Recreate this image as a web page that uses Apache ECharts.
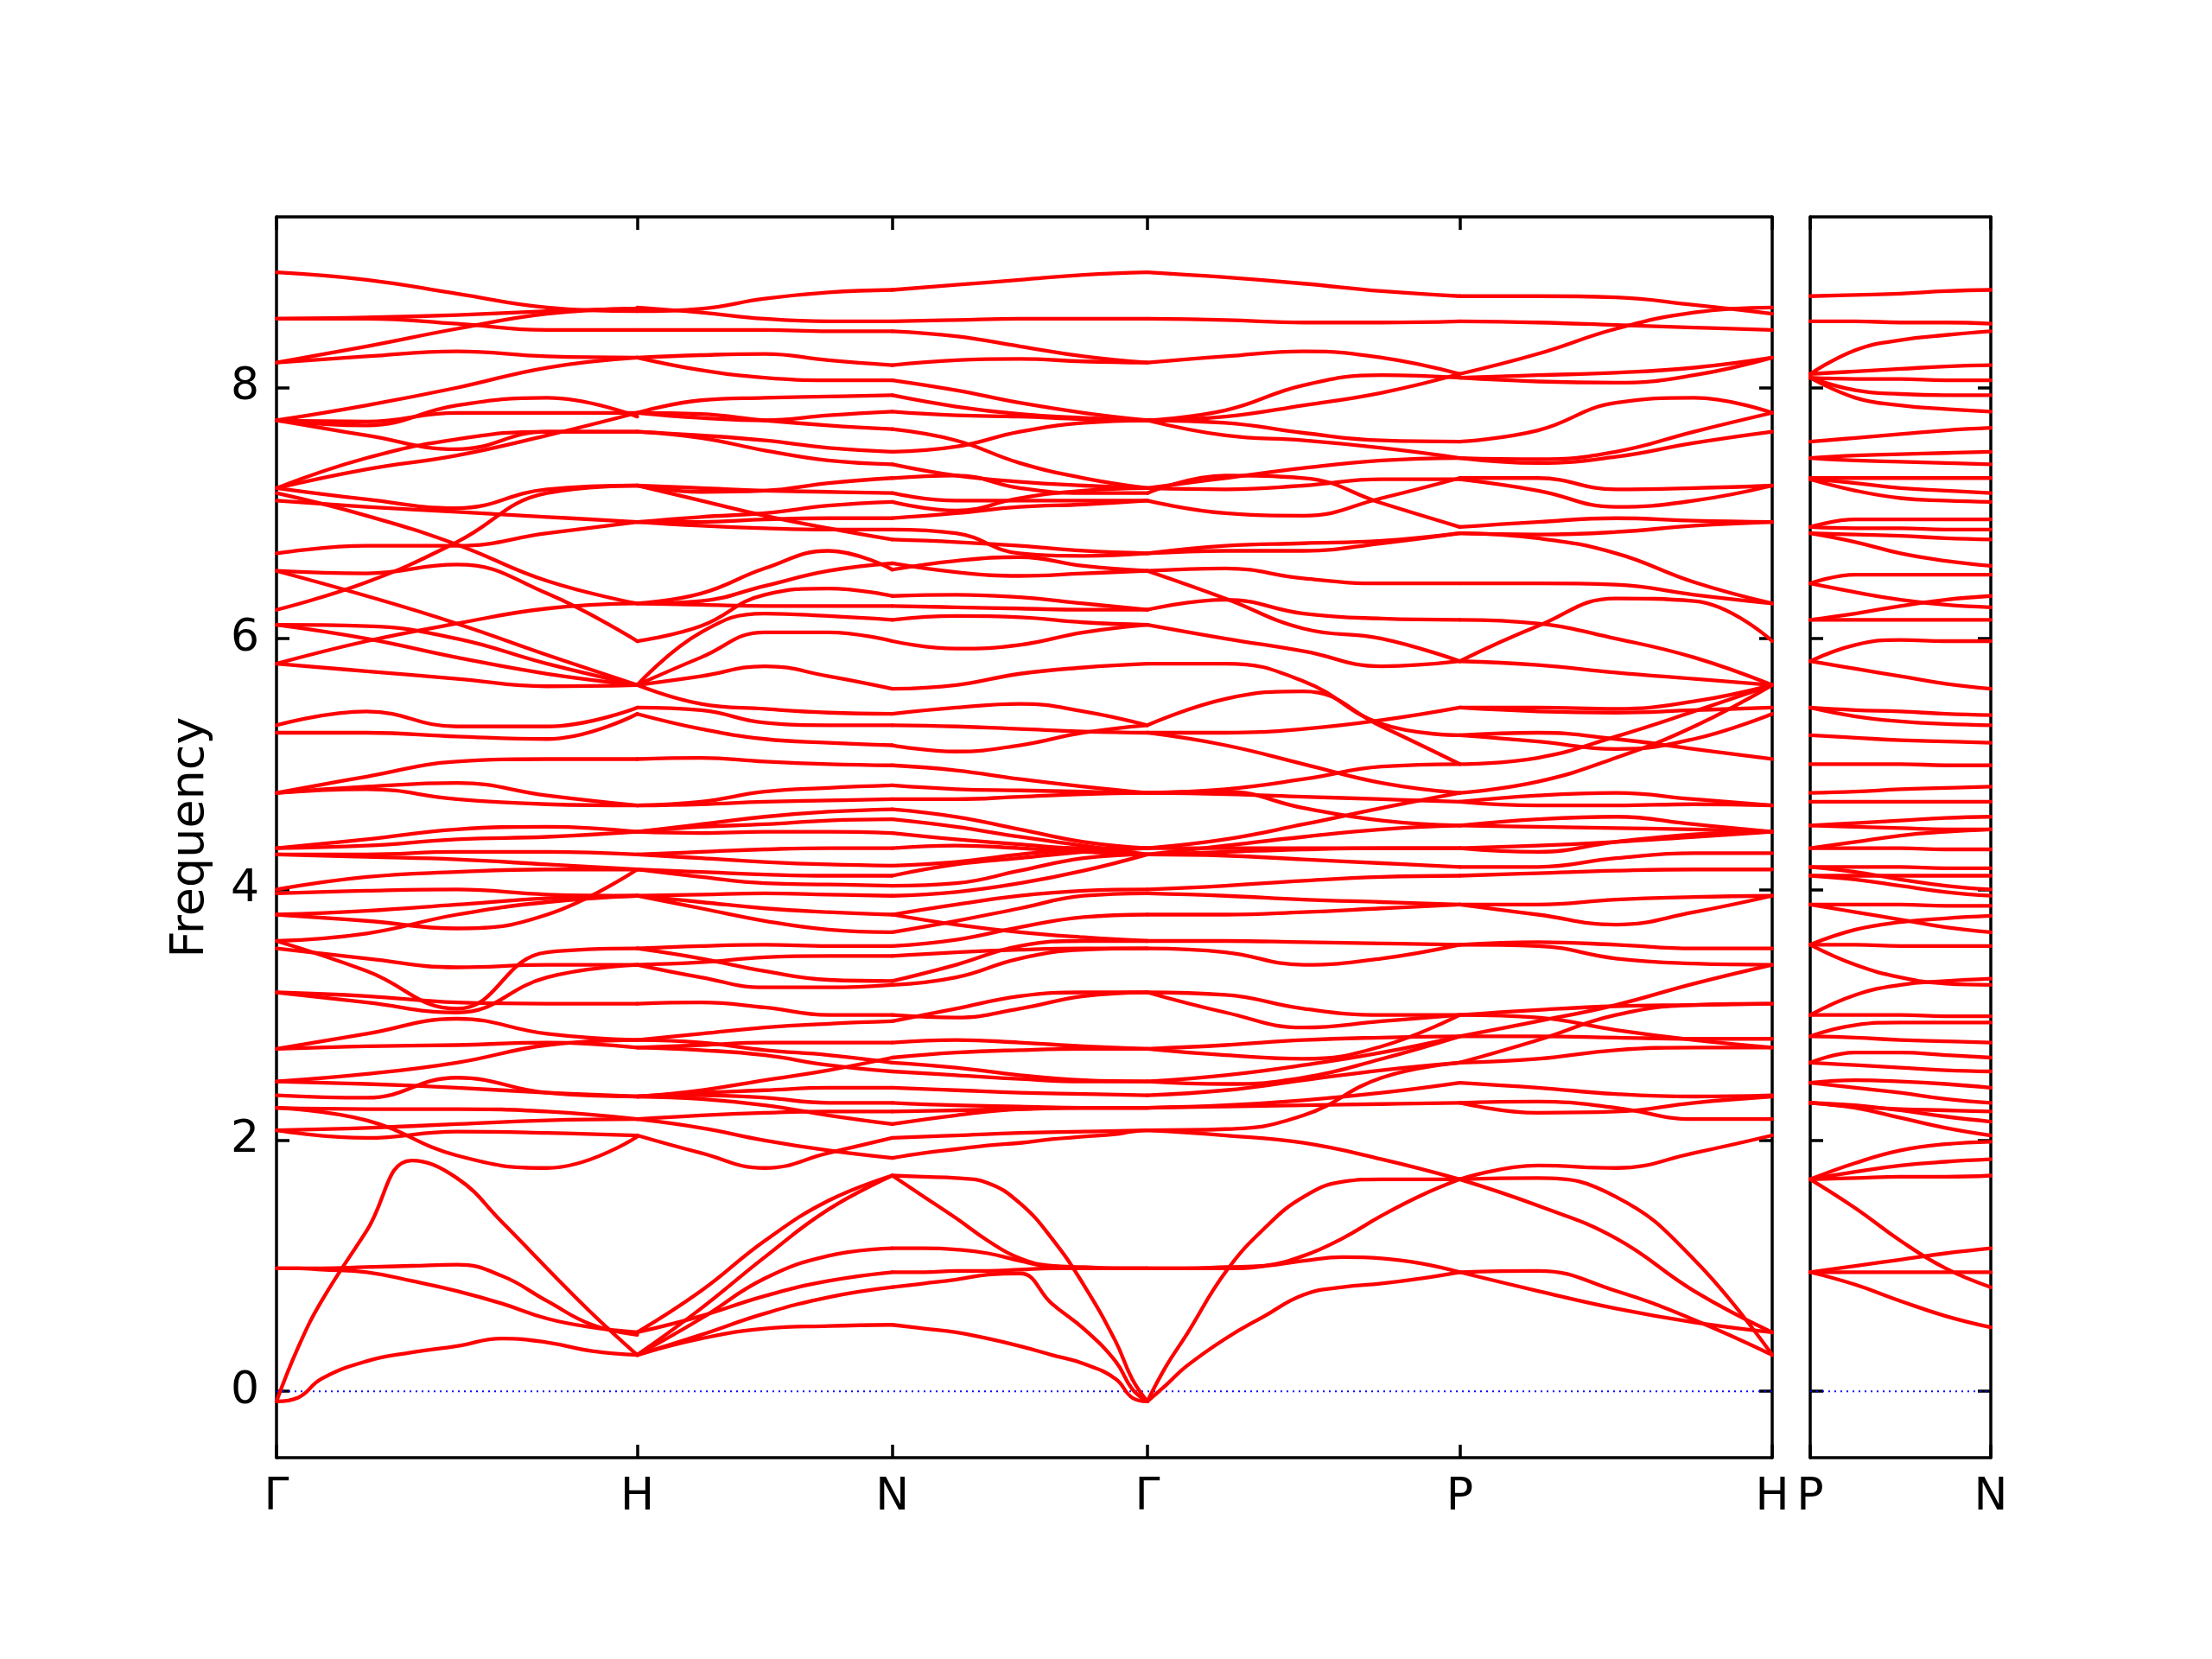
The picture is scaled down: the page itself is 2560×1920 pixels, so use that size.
<!DOCTYPE html>
<html><head><meta charset="utf-8">
<script src="https://cdn.jsdelivr.net/npm/echarts@6/dist/echarts.min.js"></script>
<style>html,body{margin:0;padding:0;background:#fff}#c{width:2560px;height:1920px}</style>
</head><body><div id="c"></div>
<script>
// ---- path / tick data ----
const kNodes = [0, 1, 1.7071, 2.4142, 3.2802, 4.1463];
const kLabels = ['Γ', 'H', 'N', 'Γ', 'P', 'H'];
const pnNodes = [0, 0.5];
const pnLabels = ['P', 'N'];
const yTicks = [0, 2, 4, 6, 8];
const tGrid = [0, 0.25, 0.5, 0.75, 1];
const tLowStart = [0, 0.06, 0.125, 0.25, 0.375, 0.5, 0.625, 0.75, 0.875, 1];
const tLowEnd = [0, 0.125, 0.25, 0.375, 0.5, 0.625, 0.75, 0.875, 0.94, 1];

// ---- bands, segment Γ-H (values at tGrid) ----
const bandsGH = [
[8.92,8.86,8.75,8.64,8.61],[8.55,8.55,8.51,8.46,8.46],[8.55,8.56,8.58,8.61,8.63],[8.20,8.33,8.47,8.59,8.63],
[8.20,8.25,8.29,8.25,8.24],[7.74,7.86,8.00,8.16,8.24],[7.74,7.73,7.80,7.80,7.80],[7.74,7.70,7.86,7.92,7.77],
[7.74,7.62,7.51,7.65,7.65],[7.20,7.44,7.59,7.65,7.65],[7.20,7.35,7.46,7.62,7.80],[7.20,7.11,7.04,7.19,7.22],
[7.10,7.05,7.01,6.97,6.93],[7.16,6.98,6.75,6.46,6.28],[6.68,6.74,6.74,6.84,6.93],[6.23,6.45,6.77,7.16,7.22],
[6.54,6.52,6.59,6.36,5.98],[6.54,6.34,6.12,5.87,5.63],[6.11,6.10,6.00,5.80,5.63],[6.11,6.00,5.85,5.72,5.63],
[5.80,5.98,6.12,6.24,6.28],[5.80,5.74,5.68,5.62,5.63],[5.31,5.42,5.30,5.30,5.45],[5.25,5.25,5.22,5.20,5.40],
[4.77,4.90,5.02,5.04,5.04],[4.77,4.80,4.72,4.68,4.67],[4.77,4.82,4.85,4.75,4.67],
[4.33,4.40,4.48,4.50,4.46],[4.33,4.35,4.40,4.42,4.46],[4.28,4.28,4.30,4.30,4.28],[4.28,4.26,4.24,4.20,4.16],
[4.00,4.10,4.14,4.16,4.16],[3.97,3.99,4.00,3.96,3.95],[3.80,3.83,3.88,3.93,3.95],[3.80,3.75,3.69,3.80,4.16],
[3.59,3.65,3.80,3.90,3.95],[3.53,3.45,3.38,3.40,3.40],[3.59,3.35,3.05,3.50,3.53],[3.18,3.15,3.10,3.09,3.09],
[3.18,3.10,3.02,3.30,3.40],[2.73,2.85,2.97,2.85,2.80],[2.73,2.75,2.76,2.78,2.74],[2.47,2.53,2.62,2.76,2.80],
[2.47,2.45,2.42,2.38,2.35],[2.36,2.34,2.50,2.38,2.35],[2.26,2.25,2.25,2.23,2.17],[2.26,2.16,1.88,1.78,2.03],
[2.08,2.02,2.07,2.06,2.04],[2.08,2.10,2.13,2.16,2.17]
];
// low bands Γ-H (values at tLowStart)
const lowGH = [
[-0.08,-0.05,0.10,0.24,0.31,0.36,0.42,0.39,0.32,0.29],
[-0.08,0.35,0.72,1.28,1.84,1.70,1.35,0.98,0.62,0.29],
[0.98,0.98,0.98,0.99,1.00,1.01,0.92,0.72,0.53,0.45],
[0.98,0.98,0.97,0.95,0.88,0.80,0.70,0.58,0.51,0.47]
];

// ---- segment H-N ----
const bandsHN = [
[0.29,0.42,0.50,0.52,0.53],[0.29,0.45,0.62,0.75,0.83],[0.47,0.60,0.76,0.88,0.95],[0.29,0.58,0.90,1.08,1.14],
[0.47,0.80,1.20,1.52,1.72],[0.29,0.66,1.07,1.45,1.72],
[2.04,1.90,1.78,1.90,2.02],[2.17,2.10,2.00,1.92,1.86],[2.35,2.33,2.28,2.20,2.13],[2.35,2.36,2.34,2.30,2.30],
[2.17,2.20,2.22,2.23,2.23],[2.35,2.38,2.40,2.42,2.42],
[2.74,2.72,2.68,2.60,2.55],[2.80,2.78,2.72,2.68,2.62],[2.35,2.40,2.48,2.56,2.66],[2.74,2.76,2.78,2.78,2.78],
[3.09,3.10,3.06,3.00,3.00],[2.80,2.85,2.90,2.93,2.95],[3.40,3.30,3.22,3.22,3.24],[3.53,3.45,3.35,3.28,3.27],
[3.40,3.42,3.46,3.47,3.47],[3.53,3.55,3.56,3.55,3.55],[3.95,3.85,3.75,3.68,3.66],[3.95,3.90,3.85,3.82,3.80],
[3.95,3.96,3.97,3.96,3.95],[4.16,4.10,4.05,4.04,4.03],[4.16,4.14,4.12,4.11,4.11],[4.28,4.25,4.22,4.20,4.19],
[4.28,4.30,4.32,4.33,4.33],[4.46,4.45,4.46,4.46,4.45],
[8.61,8.63,8.71,8.76,8.78],[8.64,8.60,8.55,8.53,8.53],[8.46,8.46,8.46,8.45,8.45],[8.24,8.26,8.27,8.22,8.18],
[8.24,8.14,8.08,8.06,8.06],[7.80,7.90,7.92,7.93,7.94],[7.80,7.79,7.74,7.70,7.67],[7.80,7.76,7.74,7.78,7.81],
[7.65,7.60,7.50,7.42,7.39],[7.65,7.62,7.58,7.52,7.49],[7.22,7.17,7.18,7.24,7.28],[7.22,7.20,7.18,7.17,7.16],
[7.22,7.10,6.98,6.88,6.79],[6.93,6.93,6.95,6.96,6.96],[6.93,6.97,7.00,7.06,7.09],[6.93,6.90,6.88,6.87,6.87],
[6.28,6.36,6.56,6.70,6.55],[6.28,6.30,6.42,6.54,6.60],[6.28,6.27,6.26,6.26,6.26],[5.98,6.10,6.35,6.40,6.34],
[5.63,6.05,6.20,6.18,6.15],[5.63,5.85,6.05,6.05,5.98],[5.63,5.70,5.78,5.70,5.60],[5.63,5.48,5.44,5.41,5.40],
[5.45,5.43,5.33,5.31,5.31],[5.40,5.28,5.20,5.17,5.15],[5.04,5.05,5.02,5.00,4.99],[4.67,4.70,4.78,4.81,4.83],
[4.67,4.68,4.70,4.71,4.72],[4.46,4.52,4.58,4.62,4.64],[4.46,4.50,4.52,4.55,4.56]
];

// ---- segment N-Γ ----
const bandsNG = [
[2.02,2.04,2.06,2.07,2.08],[2.13,2.20,2.25,2.26,2.26],[2.30,2.28,2.27,2.26,2.26],[2.23,2.24,2.25,2.26,2.26],
[2.42,2.40,2.38,2.37,2.36],[2.55,2.52,2.49,2.47,2.47],[2.62,2.58,2.52,2.48,2.47],[2.66,2.70,2.72,2.73,2.73],
[2.78,2.80,2.78,2.75,2.73],[2.95,3.05,3.15,3.18,3.18],[3.00,2.98,3.05,3.15,3.18],[3.24,3.30,3.45,3.52,3.53],
[3.27,3.40,3.55,3.59,3.59],[3.47,3.50,3.52,3.53,3.53],[3.55,3.60,3.70,3.78,3.80],[3.66,3.75,3.85,3.95,3.97],
[3.80,3.72,3.66,3.62,3.59],[3.80,3.88,3.95,3.99,4.00],[3.95,3.98,4.05,4.15,4.28],[4.03,4.05,4.15,4.25,4.28],
[4.11,4.20,4.25,4.30,4.33],[4.19,4.22,4.28,4.32,4.33],[4.33,4.35,4.33,4.30,4.28],[4.45,4.40,4.36,4.33,4.33],
[8.78,8.82,8.86,8.90,8.92],[8.53,8.54,8.55,8.55,8.55],[8.45,8.41,8.33,8.25,8.20],[8.18,8.22,8.23,8.21,8.20],
[8.06,7.98,7.88,7.80,7.74],[7.94,7.85,7.79,7.76,7.74],[7.81,7.78,7.77,7.75,7.74],[7.67,7.58,7.40,7.28,7.20],
[7.49,7.53,7.65,7.72,7.74],[7.39,7.30,7.25,7.22,7.20],[7.28,7.30,7.20,7.16,7.16],[7.16,7.10,7.10,7.10,7.10],
[7.09,7.02,7.12,7.18,7.20],[6.96,7.00,7.05,7.07,7.10],[6.87,6.84,6.68,6.66,6.68],[6.79,6.77,6.74,6.70,6.68],
[6.55,6.62,6.65,6.58,6.54],[6.60,6.53,6.50,6.52,6.54],[6.34,6.35,6.33,6.28,6.23],[6.26,6.25,6.24,6.23,6.23],
[6.15,6.18,6.17,6.13,6.11],[5.98,5.92,5.95,6.05,6.11],[5.60,5.63,5.72,5.77,5.80],[5.40,5.45,5.48,5.42,5.31],
[5.31,5.30,5.28,5.26,5.25],[5.15,5.10,5.15,5.25,5.31],[4.99,4.95,4.88,4.82,4.77],[4.83,4.80,4.79,4.78,4.77],
[4.72,4.72,4.74,4.76,4.77],[4.64,4.58,4.48,4.38,4.33],[4.56,4.50,4.42,4.35,4.28]
];
// low bands N-Γ (values at tLowEnd)
const lowNG = [
[0.53,0.50,0.47,0.42,0.36,0.29,0.22,0.10,-0.05,-0.08],
[0.83,0.86,0.89,0.93,0.94,0.70,0.50,0.24,0.02,-0.08],
[1.72,1.71,1.70,1.66,1.50,1.22,0.85,0.40,0.10,-0.08],
[1.72,1.55,1.38,1.20,1.06,1.00,0.99,0.98,0.98,0.98],
[1.14,1.14,1.13,1.10,1.04,0.99,0.98,0.98,0.98,0.98],
[0.95,0.95,0.96,0.96,0.97,0.98,0.98,0.98,0.98,0.98],
[1.86,1.90,1.93,1.96,1.98,2.01,2.03,2.05,2.07,2.08]
];

// ---- segment Γ-P ----
const bandsGP = [
[2.08,2.04,1.98,1.85,1.69],[2.08,2.09,2.20,2.50,2.62],[2.26,2.27,2.28,2.29,2.30],[2.26,2.28,2.32,2.38,2.46],
[2.36,2.40,2.48,2.56,2.62],[2.47,2.52,2.60,2.70,2.83],[2.47,2.45,2.50,2.65,2.83],[2.73,2.68,2.65,2.75,3.00],
[2.73,2.76,2.80,2.82,2.83],[3.18,3.16,3.05,3.00,3.00],[3.18,3.02,2.90,2.95,3.00],[3.53,3.50,3.40,3.45,3.56],
[3.59,3.59,3.58,3.57,3.56],[3.80,3.80,3.82,3.85,3.88],[3.97,3.95,3.92,3.90,3.88],[4.00,4.03,4.07,4.10,4.11],
[4.28,4.27,4.24,4.21,4.18],[4.28,4.30,4.32,4.33,4.33],[4.33,4.33,4.33,4.33,4.33],[4.33,4.40,4.52,4.65,4.77],
[4.28,4.35,4.42,4.48,4.51],
[8.92,8.88,8.83,8.77,8.73],[8.55,8.54,8.52,8.52,8.53],[8.20,8.25,8.29,8.24,8.11],[7.74,7.82,8.02,8.10,8.08],
[7.74,7.77,7.86,7.96,8.11],[7.74,7.62,7.58,7.52,7.44],[7.74,7.72,7.64,7.58,7.57],[7.20,7.28,7.36,7.42,7.44],
[7.20,7.19,7.22,7.27,7.27],[7.16,7.30,7.28,7.08,6.89],[7.10,7.00,6.98,7.12,7.28],[6.68,6.74,6.76,6.78,6.84],
[6.68,6.70,6.70,6.76,6.84],[6.54,6.56,6.48,6.44,6.44],[6.54,6.32,6.08,6.00,5.82],[6.23,6.31,6.20,6.16,6.15],
[6.11,6.00,5.90,5.78,5.82],[5.80,5.80,5.66,5.32,5.23],[5.31,5.52,5.58,5.30,5.00],[5.25,5.25,5.28,5.35,5.45],
[5.25,5.15,5.00,4.85,4.77],[4.77,4.80,4.88,4.98,5.00],[4.77,4.76,4.74,4.72,4.70],[4.77,4.78,4.65,4.55,4.51]
];
// low bands Γ-P (values at tLowStart)
const lowGP = [
[-0.08,0.20,0.45,0.95,1.30,1.55,1.67,1.69,1.69,1.69],
[-0.08,0.05,0.20,0.42,0.60,0.77,0.83,0.86,0.90,0.95],
[0.98,0.98,0.98,0.99,1.00,1.04,1.07,1.06,1.02,0.95],
[0.98,0.98,0.98,0.98,1.00,1.08,1.22,1.40,1.56,1.69]
];

// ---- segment P-H ----
const bandsPH = [
[1.69,1.70,1.55,1.05,0.29],[1.69,1.48,1.22,0.80,0.47],[1.69,1.80,1.78,1.90,2.04],[0.95,0.96,0.80,0.57,0.29],
[0.95,0.80,0.66,0.55,0.47],
[2.30,2.31,2.26,2.17,2.17],[2.30,2.22,2.23,2.30,2.35],[2.46,2.42,2.37,2.35,2.36],[2.62,2.65,2.72,2.74,2.74],
[2.62,2.80,3.00,3.08,3.09],[2.83,2.83,2.82,2.81,2.81],[2.83,2.95,3.08,3.25,3.40],[3.00,2.98,2.88,2.80,2.74],
[3.00,3.04,3.07,3.08,3.09],[3.56,3.55,3.45,3.41,3.40],[3.56,3.58,3.56,3.53,3.53],[3.88,3.88,3.92,3.94,3.95],
[3.88,3.80,3.72,3.82,3.95],[4.11,4.13,4.15,4.16,4.16],[4.18,4.18,4.25,4.29,4.29],[4.33,4.35,4.38,4.42,4.46],
[4.33,4.30,4.38,4.44,4.46],
[8.73,8.73,8.72,8.66,8.59],[8.53,8.52,8.50,8.48,8.46],[8.11,8.27,8.47,8.60,8.64],[8.08,8.10,8.12,8.16,8.24],
[8.08,8.05,8.04,8.10,8.24],[7.57,7.66,7.88,7.92,7.80],[7.44,7.43,7.49,7.65,7.80],[7.44,7.40,7.45,7.56,7.65],
[7.28,7.28,7.19,7.20,7.22],[7.27,7.18,7.05,7.10,7.22],[6.89,6.93,6.96,6.94,6.93],[6.84,6.83,6.85,6.90,6.93],
[6.84,6.80,6.68,6.45,6.28],[6.44,6.44,6.43,6.35,6.28],[5.82,6.10,6.32,6.30,5.98],[6.15,6.12,6.00,5.85,5.63],
[5.82,5.79,5.73,5.68,5.63],[5.45,5.45,5.44,5.50,5.63],[5.45,5.42,5.41,5.43,5.45],[5.23,5.18,5.12,5.20,5.40],
[5.23,5.25,5.20,5.12,5.04],[5.00,5.05,5.22,5.42,5.63],[4.77,4.86,5.05,5.30,5.63],[4.70,4.67,4.67,4.68,4.67],
[4.70,4.75,4.77,4.72,4.67],[4.51,4.56,4.58,4.52,4.46],[4.51,4.50,4.49,4.48,4.46]
];

// ---- second panel P-N ----
const bandsPN = [
[0.95,1.00,1.05,1.10,1.14],[0.95,0.95,0.95,0.95,0.95],[0.95,0.85,0.72,0.60,0.51],[1.69,1.46,1.20,0.98,0.83],
[1.69,1.70,1.71,1.71,1.72],[1.69,1.82,1.92,1.97,1.99],[1.69,1.75,1.80,1.83,1.85],
[2.30,2.26,2.18,2.10,2.04],[2.30,2.28,2.24,2.19,2.15],[2.30,2.27,2.25,2.24,2.23],[2.46,2.42,2.38,2.33,2.30],
[2.46,2.48,2.47,2.45,2.42],[2.62,2.60,2.58,2.56,2.55],[2.62,2.70,2.70,2.68,2.66],[2.83,2.82,2.80,2.79,2.78],
[2.83,2.92,2.94,2.94,2.94],[3.00,3.00,3.00,2.99,2.99],[3.00,3.16,3.24,3.27,3.29],[3.56,3.40,3.30,3.25,3.24],
[3.56,3.56,3.55,3.55,3.55],[3.56,3.68,3.74,3.77,3.79],[3.88,3.82,3.76,3.70,3.66],[3.88,3.88,3.88,3.87,3.87],
[4.11,4.08,4.03,3.98,3.95],[4.11,4.11,4.11,4.11,4.11],[4.18,4.14,4.08,4.03,4.00],[4.18,4.18,4.18,4.17,4.17],
[4.33,4.33,4.33,4.32,4.32],[4.33,4.38,4.43,4.46,4.48],
[8.73,8.74,8.75,8.77,8.78],[8.53,8.53,8.52,8.52,8.51],[8.11,8.30,8.38,8.42,8.45],[8.11,8.13,8.15,8.17,8.18],
[8.08,8.07,8.07,8.06,8.06],[8.08,7.98,7.95,7.94,7.94],[8.08,7.92,7.86,7.83,7.81],[7.57,7.60,7.63,7.66,7.68],
[7.44,7.46,7.47,7.48,7.49],[7.44,7.42,7.41,7.40,7.39],[7.28,7.28,7.28,7.28,7.28],[7.27,7.24,7.20,7.18,7.16],
[7.27,7.18,7.12,7.10,7.09],[6.89,6.95,6.95,6.95,6.95],[6.89,6.88,6.88,6.87,6.87],[6.84,6.83,6.82,6.80,6.79],
[6.84,6.77,6.68,6.62,6.58],[6.44,6.51,6.51,6.51,6.51],[6.44,6.37,6.31,6.27,6.25],[6.15,6.20,6.26,6.31,6.34],
[6.15,6.15,6.15,6.15,6.15],[5.82,5.95,5.99,5.98,5.98],[5.82,5.76,5.70,5.64,5.60],[5.45,5.43,5.42,5.40,5.39],
[5.45,5.38,5.34,5.32,5.31],[5.23,5.21,5.19,5.18,5.17],[5.00,5.00,5.00,4.99,4.99],[4.77,4.78,4.80,4.81,4.82],
[4.70,4.70,4.70,4.70,4.70],[4.51,4.53,4.55,4.57,4.58],[4.51,4.50,4.49,4.48,4.48]
];

// ---- build chart ----
const series = [];
const RED = '#ff0000';
function addRows(rows, grid, k0, k1, axisIdx) {
  rows.forEach(r => {
    series.push({
      type: 'line', xAxisIndex: axisIdx, yAxisIndex: axisIdx,
      data: r.map((f, i) => [k0 + grid[i] * (k1 - k0), f]),
      smooth: 0.45, symbol: 'none', silent: true, animation: false, z: 3,
      lineStyle: { color: RED, width: 4.3, cap: 'round', join: 'round' }
    });
  });
}
// zero lines
series.push({ type: 'line', xAxisIndex: 0, yAxisIndex: 0, data: [[kNodes[0], 0], [kNodes[5], 0]], symbol: 'none', silent: true, animation: false, z: 2,
  lineStyle: { color: '#0000ff', width: 2, type: [2, 5] } });
series.push({ type: 'line', xAxisIndex: 2, yAxisIndex: 2, data: [[pnNodes[0], 0], [pnNodes[1], 0]], symbol: 'none', silent: true, animation: false, z: 2,
  lineStyle: { color: '#0000ff', width: 2, type: [2, 5] } });

addRows(bandsGH, tGrid, kNodes[0], kNodes[1], 0);
addRows(lowGH, tLowStart, kNodes[0], kNodes[1], 0);
addRows(bandsHN, tGrid, kNodes[1], kNodes[2], 0);
addRows(bandsNG, tGrid, kNodes[2], kNodes[3], 0);
addRows(lowNG, tLowEnd, kNodes[2], kNodes[3], 0);
addRows(bandsGP, tGrid, kNodes[3], kNodes[4], 0);
addRows(lowGP, tLowStart, kNodes[3], kNodes[4], 0);
addRows(bandsPH, tGrid, kNodes[4], kNodes[5], 0);
addRows(bandsPN, tGrid, pnNodes[0], pnNodes[1], 2);

const FONT = 'DejaVu Sans';
const axLine = { show: true, onZero: false, lineStyle: { color: '#000', width: 3.5 } };
const tick = (vals) => ({ show: true, inside: true, length: 15, customValues: vals, lineStyle: { color: '#000', width: 3.5 } });
const YMIN = -0.529, YMAX = 9.362;

function xAx(grid, pos, nodes, labels, show) {
  return {
    type: 'value', gridIndex: grid, position: pos, min: nodes[0], max: nodes[nodes.length - 1],
    axisLine: axLine, axisTick: tick(nodes), splitLine: { show: false },
    axisLabel: show ? {
      show: true, customValues: nodes, margin: 20, fontSize: 52, fontFamily: FONT, color: '#000',
      formatter: v => { const i = nodes.findIndex(k => Math.abs(k - v) < 1e-3); return i >= 0 ? labels[i] : ''; }
    } : { show: false }
  };
}
function yAx(grid, pos, show, name) {
  const o = {
    type: 'value', gridIndex: grid, position: pos, min: YMIN, max: YMAX,
    axisLine: axLine, axisTick: tick(yTicks), splitLine: { show: false },
    axisLabel: show ? { show: true, customValues: yTicks, margin: 20, fontSize: 52, fontFamily: FONT, color: '#000' } : { show: false }
  };
  if (name) {
    Object.assign(o, { name: name, nameLocation: 'middle', nameGap: 72, nameRotate: 90,
      nameTextStyle: { fontSize: 54, fontFamily: FONT, color: '#000' } });
  }
  return o;
}

const chart = echarts.init(document.getElementById('c'), null, { renderer: 'canvas', width: 2560, height: 1920 });
chart.setOption({
  backgroundColor: '#fff',
  animation: false,
  grid: [
    { left: 320, top: 251, width: 1731, height: 1436 },
    { left: 2095, top: 251, width: 209, height: 1436 }
  ],
  xAxis: [
    xAx(0, 'bottom', kNodes, kLabels, true),
    xAx(0, 'top', kNodes, kLabels, false),
    xAx(1, 'bottom', pnNodes, pnLabels, true),
    xAx(1, 'top', pnNodes, pnLabels, false)
  ],
  yAxis: [
    yAx(0, 'left', true, 'Frequency'),
    yAx(0, 'right', false),
    yAx(1, 'left', false),
    yAx(1, 'right', false)
  ],
  series: series
});
</script>
</body></html>
